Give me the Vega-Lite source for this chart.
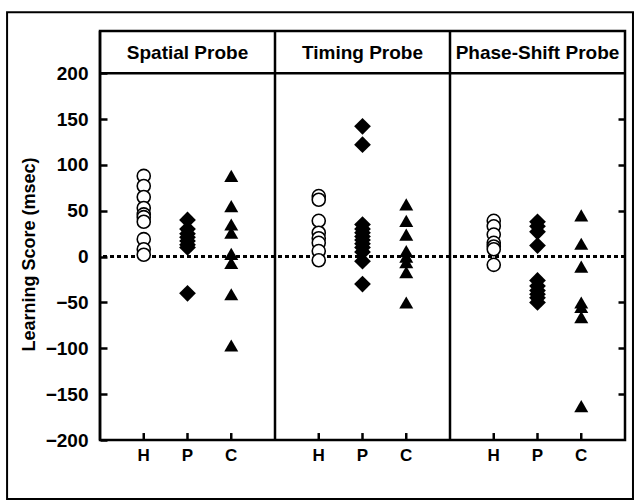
{
  "$schema": "https://vega.github.io/schema/vega-lite/v6.json",
  "width": 525,
  "height": 409,
  "autosize": "none",
  "padding": {"left": 100, "top": 31, "right": 12, "bottom": 62},
  "background": "white",
  "config": {
    "font": "Liberation Sans",
    "view": {"stroke": "black", "strokeWidth": 2.5},
    "axis": {"grid": false}
  },
  "datasets": {
    "scores": [
      {"probe": "Spatial Probe", "group": "H", "score": 88},
      {"probe": "Spatial Probe", "group": "H", "score": 77},
      {"probe": "Spatial Probe", "group": "H", "score": 65},
      {"probe": "Spatial Probe", "group": "H", "score": 53},
      {"probe": "Spatial Probe", "group": "H", "score": 46},
      {"probe": "Spatial Probe", "group": "H", "score": 43},
      {"probe": "Spatial Probe", "group": "H", "score": 38},
      {"probe": "Spatial Probe", "group": "H", "score": 19},
      {"probe": "Spatial Probe", "group": "H", "score": 8},
      {"probe": "Spatial Probe", "group": "H", "score": 2},
      {"probe": "Spatial Probe", "group": "P", "score": 40},
      {"probe": "Spatial Probe", "group": "P", "score": 30},
      {"probe": "Spatial Probe", "group": "P", "score": 25},
      {"probe": "Spatial Probe", "group": "P", "score": 21},
      {"probe": "Spatial Probe", "group": "P", "score": 17},
      {"probe": "Spatial Probe", "group": "P", "score": 13},
      {"probe": "Spatial Probe", "group": "P", "score": 10},
      {"probe": "Spatial Probe", "group": "P", "score": -40},
      {"probe": "Spatial Probe", "group": "C", "score": 88},
      {"probe": "Spatial Probe", "group": "C", "score": 55},
      {"probe": "Spatial Probe", "group": "C", "score": 35},
      {"probe": "Spatial Probe", "group": "C", "score": 26},
      {"probe": "Spatial Probe", "group": "C", "score": 3},
      {"probe": "Spatial Probe", "group": "C", "score": -7},
      {"probe": "Spatial Probe", "group": "C", "score": -41},
      {"probe": "Spatial Probe", "group": "C", "score": -97},
      {"probe": "Timing Probe", "group": "H", "score": 66},
      {"probe": "Timing Probe", "group": "H", "score": 62},
      {"probe": "Timing Probe", "group": "H", "score": 39},
      {"probe": "Timing Probe", "group": "H", "score": 26},
      {"probe": "Timing Probe", "group": "H", "score": 20},
      {"probe": "Timing Probe", "group": "H", "score": 15},
      {"probe": "Timing Probe", "group": "H", "score": 6},
      {"probe": "Timing Probe", "group": "H", "score": -4},
      {"probe": "Timing Probe", "group": "P", "score": 142},
      {"probe": "Timing Probe", "group": "P", "score": 122},
      {"probe": "Timing Probe", "group": "P", "score": 35},
      {"probe": "Timing Probe", "group": "P", "score": 30},
      {"probe": "Timing Probe", "group": "P", "score": 26},
      {"probe": "Timing Probe", "group": "P", "score": 22},
      {"probe": "Timing Probe", "group": "P", "score": 18},
      {"probe": "Timing Probe", "group": "P", "score": 14},
      {"probe": "Timing Probe", "group": "P", "score": 10},
      {"probe": "Timing Probe", "group": "P", "score": 5},
      {"probe": "Timing Probe", "group": "P", "score": -5},
      {"probe": "Timing Probe", "group": "P", "score": -30},
      {"probe": "Timing Probe", "group": "C", "score": 57},
      {"probe": "Timing Probe", "group": "C", "score": 39},
      {"probe": "Timing Probe", "group": "C", "score": 24},
      {"probe": "Timing Probe", "group": "C", "score": 6},
      {"probe": "Timing Probe", "group": "C", "score": 0},
      {"probe": "Timing Probe", "group": "C", "score": -6},
      {"probe": "Timing Probe", "group": "C", "score": -17},
      {"probe": "Timing Probe", "group": "C", "score": -50},
      {"probe": "Phase-Shift Probe", "group": "H", "score": 39},
      {"probe": "Phase-Shift Probe", "group": "H", "score": 33},
      {"probe": "Phase-Shift Probe", "group": "H", "score": 24},
      {"probe": "Phase-Shift Probe", "group": "H", "score": 15},
      {"probe": "Phase-Shift Probe", "group": "H", "score": 11},
      {"probe": "Phase-Shift Probe", "group": "H", "score": 8},
      {"probe": "Phase-Shift Probe", "group": "H", "score": -9},
      {"probe": "Phase-Shift Probe", "group": "P", "score": 38},
      {"probe": "Phase-Shift Probe", "group": "P", "score": 33},
      {"probe": "Phase-Shift Probe", "group": "P", "score": 27},
      {"probe": "Phase-Shift Probe", "group": "P", "score": 12},
      {"probe": "Phase-Shift Probe", "group": "P", "score": -26},
      {"probe": "Phase-Shift Probe", "group": "P", "score": -32},
      {"probe": "Phase-Shift Probe", "group": "P", "score": -37},
      {"probe": "Phase-Shift Probe", "group": "P", "score": -41},
      {"probe": "Phase-Shift Probe", "group": "P", "score": -45},
      {"probe": "Phase-Shift Probe", "group": "P", "score": -50},
      {"probe": "Phase-Shift Probe", "group": "C", "score": 45},
      {"probe": "Phase-Shift Probe", "group": "C", "score": 14},
      {"probe": "Phase-Shift Probe", "group": "C", "score": -11},
      {"probe": "Phase-Shift Probe", "group": "C", "score": -50},
      {"probe": "Phase-Shift Probe", "group": "C", "score": -55},
      {"probe": "Phase-Shift Probe", "group": "C", "score": -66},
      {"probe": "Phase-Shift Probe", "group": "C", "score": -163}
    ]
  },
  "layer": [
    {
      "data": {"values": [{}]},
      "mark": {"type": "rect", "filled": false, "stroke": "black", "strokeWidth": 2, "clip": false},
      "encoding": {
        "x": {"datum": -0.177, "type": "quantitative", "scale": {"domain": [0, 1], "nice": false, "zero": false}, "axis": null},
        "x2": {"datum": 1.0152},
        "y": {"datum": -264.3, "type": "quantitative", "axis": null},
        "y2": {"datum": 266.4}
      }
    },
    {
      "data": {"name": "scores"},
      "layer": [
        {
          "data": {"values": [{}]},
          "mark": {"type": "rule", "stroke": "black", "strokeWidth": 2.5},
          "encoding": {
            "y": {"datum": 200, "type": "quantitative", "scale": {"domain": [-200, 246], "nice": false, "zero": false}, "axis": null}
          }
        },
        {
          "transform": [{"aggregate": [{"op": "count", "as": "n"}], "groupby": ["probe"]}],
          "mark": {"type": "rule", "stroke": "black", "strokeWidth": 2.5},
          "encoding": {
            "x": {"field": "probe", "type": "nominal", "bandPosition": 0, "scale": {"type": "band", "domain": ["Spatial Probe", "Timing Probe", "Phase-Shift Probe"], "paddingInner": 0, "paddingOuter": 0}, "axis": null}
          }
        },
        {
          "data": {"values": [{}]},
          "mark": {"type": "rule", "stroke": "black", "strokeWidth": 3, "strokeDash": [4, 3]},
          "encoding": {
            "y": {"datum": 0, "type": "quantitative", "axis": null}
          }
        },
        {
          "transform": [{"aggregate": [{"op": "count", "as": "n"}], "groupby": ["probe"]}],
          "mark": {"type": "text", "fontSize": 19, "fontWeight": "bold", "color": "black", "baseline": "middle", "align": "center"},
          "encoding": {
            "x": {"field": "probe", "type": "nominal", "bandPosition": 0.5, "axis": null},
            "y": {"datum": 222, "type": "quantitative", "axis": null},
            "text": {"field": "probe", "type": "nominal"}
          }
        },
        {
          "transform": [{"aggregate": [{"op": "count", "as": "n"}], "groupby": ["probe", "group"]}],
          "mark": {"type": "rule", "stroke": "black", "strokeWidth": 2.5},
          "encoding": {
            "x": {"field": "probe", "type": "nominal", "axis": null},
            "xOffset": {"field": "group", "type": "nominal", "scale": {"type": "point", "domain": ["H", "P", "C"], "padding": 1}},
            "y": {"datum": -200, "type": "quantitative", "axis": null},
            "y2": {"datum": -192.4}
          }
        },
        {
          "transform": [{"aggregate": [{"op": "count", "as": "n"}], "groupby": ["probe", "group"]}],
          "mark": {"type": "text", "fontSize": 17, "fontWeight": "bold", "color": "black", "baseline": "middle", "align": "center", "dy": 16},
          "encoding": {
            "x": {"field": "probe", "type": "nominal", "axis": null},
            "xOffset": {"field": "group", "type": "nominal"},
            "y": {"datum": -200, "type": "quantitative", "axis": null},
            "text": {"field": "group", "type": "nominal"}
          }
        },
        {
          "transform": [{"filter": "datum.group === 'H'"}],
          "mark": {"type": "point", "shape": "circle", "size": 170, "filled": true, "fill": "white", "stroke": "black", "strokeWidth": 1.6, "opacity": 1},
          "encoding": {
            "x": {"field": "probe", "type": "nominal", "axis": {"labels": false, "ticks": false, "domain": false, "title": "Group", "titleFontSize": 18, "titleFontWeight": "bold", "titleColor": "black", "titlePadding": 28}},
            "xOffset": {"field": "group", "type": "nominal"},
            "y": {"field": "score", "type": "quantitative", "axis": {"orient": "left", "values": [-200, -150, -100, -50, 0, 50, 100, 150, 200], "tickSize": -7, "tickWidth": 2.5, "tickColor": "black", "domain": false, "labelPadding": 19, "labelFontSize": 19, "labelFontWeight": "bold", "labelColor": "black", "title": "Learning Score (msec)", "titleFontSize": 18, "titleFontWeight": "bold", "titleColor": "black", "titleX": -62, "titleY": 223}}
          }
        },
        {
          "transform": [{"filter": "datum.group === 'P'"}],
          "mark": {"type": "point", "shape": "diamond", "size": 280, "filled": true, "fill": "black", "strokeWidth": 0, "opacity": 1},
          "encoding": {
            "x": {"field": "probe", "type": "nominal", "axis": null},
            "xOffset": {"field": "group", "type": "nominal"},
            "y": {"field": "score", "type": "quantitative", "axis": {"orient": "right", "values": [-150, -100, -50, 50, 100, 150], "tickSize": -7, "tickWidth": 2.5, "tickColor": "black", "labels": false, "domain": false, "title": null}}
          }
        },
        {
          "transform": [{"filter": "datum.group === 'C'"}],
          "mark": {"type": "point", "shape": "triangle-up", "size": 196, "filled": true, "fill": "black", "strokeWidth": 0, "opacity": 1},
          "encoding": {
            "x": {"field": "probe", "type": "nominal", "axis": null},
            "xOffset": {"field": "group", "type": "nominal"},
            "y": {"field": "score", "type": "quantitative", "axis": null}
          }
        }
      ],
      "resolve": {"axis": {"y": "independent"}}
    }
  ],
  "resolve": {"scale": {"x": "independent"}}
}
